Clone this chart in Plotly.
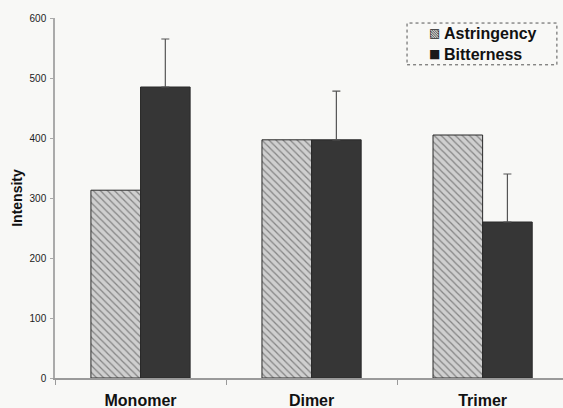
import plotly.graph_objects as go

# Sensory intensity by procyanidin size
categories = ["Monomer", "Dimer", "Trimer"]
astringency = [313, 397, 405]
bitterness = [485, 397, 260]
bitterness_err = [80, 81, 80]
y_ticks = [0, 100, 200, 300, 400, 500, 600]
legend_names = ["Astringency", "Bitterness"]
legend_icons = ["▧", "■"]

FONT = "Liberation Sans, Arial, sans-serif"

fig = go.Figure()

fig.add_trace(go.Bar(
    name=legend_names[0],
    x=categories,
    y=astringency,
    marker=dict(
        color="#c9c9c9",
        line=dict(color="#2a2a2a", width=1),
        pattern=dict(shape="\\", fgcolor="#3a3a3a", bgcolor="#cfcfcf",
                     size=5, solidity=0.25),
    ),
))

fig.add_trace(go.Bar(
    name=legend_names[1],
    x=categories,
    y=bitterness,
    marker=dict(color="#363636", line=dict(color="#2a2a2a", width=1)),
    error_y=dict(type="data", symmetric=False, array=bitterness_err,
                 arrayminus=[0] * len(bitterness_err),
                 color="#555555", thickness=1.2, width=4),
))

# legend drawn as text inside a dotted box
annotations = []
for i, (icon, name) in enumerate(zip(legend_icons, legend_names)):
    yy = 0.958 - i * 0.058
    annotations.append(dict(
        xref="paper", yref="paper", x=0.732, y=yy, xanchor="left", yanchor="middle",
        text=icon, showarrow=False,
        font=dict(family="DejaVu Sans", size=12, color="#1a1a1a"),
    ))
    annotations.append(dict(
        xref="paper", yref="paper", x=0.762, y=yy, xanchor="left", yanchor="middle",
        text=f"<b>{name}</b>", showarrow=False,
        font=dict(family=FONT, size=16, color="#111111"),
    ))

fig.update_layout(
    width=563, height=408,
    margin=dict(l=55, r=0, t=18, b=30),
    paper_bgcolor="#f8f8f6",
    plot_bgcolor="#f8f8f6",
    barmode="group",
    bargap=0.42,
    bargroupgap=0,
    font=dict(family=FONT, color="#111111"),
    showlegend=False,
    xaxis=dict(
        range=[-0.5, 2.47],
        showline=True, linecolor="#9a9a9a", linewidth=1.5,
        tickson="boundaries", ticks="outside", ticklen=5, tickcolor="#9a9a9a",
        tickfont=dict(size=16, color="#111111", weight="bold"),
        ticklabelstandoff=7,
        showgrid=False, zeroline=False,
    ),
    yaxis=dict(
        range=[0, 600],
        tickvals=y_ticks,
        showline=True, linecolor="#aaaaaa", linewidth=1.5,
        ticks="outside", ticklen=3, tickcolor="#aaaaaa",
        tickfont=dict(size=10, color="#222222"),
        ticklabelstandoff=2,
        showgrid=False, zeroline=False,
        title=dict(text="Intensity", font=dict(size=14, color="#111111", weight="bold"),
                   standoff=4),
    ),
    annotations=annotations,
    shapes=[dict(
        type="rect", xref="paper", yref="paper",
        x0=0.693, x1=0.988, y0=0.870, y1=0.986,
        line=dict(color="#555555", width=1, dash="dot"),
    )],
)

fig.write_html("out.html")
